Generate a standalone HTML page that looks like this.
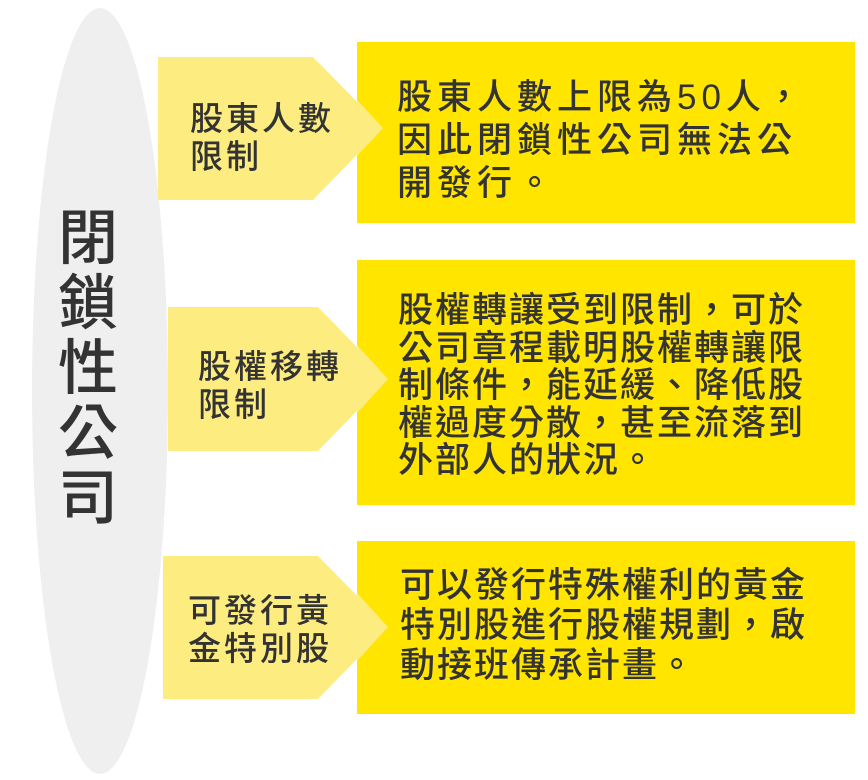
<!DOCTYPE html>
<html><head><meta charset="utf-8"><style>
body{margin:0;width:868px;height:780px;background:#fff;position:relative;overflow:hidden;font-family:"Liberation Sans","Noto Sans CJK TC",sans-serif;color:#333}
.a{position:absolute}
.box{position:absolute;left:357px;width:498px;background:#ffe500}
.t{position:absolute;font-size:35px;white-space:nowrap;font-weight:500}
.p{position:absolute;font-size:33px;letter-spacing:3px;line-height:38px;white-space:nowrap;font-weight:500}
</style></head><body>
<div class="a" style="left:32px;top:8px;width:136px;height:766px;border-radius:50%;background:#efefef"></div>
<div class="a" style="left:55px;top:206px;width:66px;font-size:60px;line-height:65px;text-align:center;font-weight:500">閉<br>鎖<br>性<br>公<br>司</div>

<svg class="a" style="left:0;top:0" width="868" height="780">
<polygon points="158,57 313,57 383,128 313,200 158,200" fill="#fdec7f"/>
<polygon points="168,307 318,307 388,379 318,451 168,451" fill="#fdec7f"/>
<polygon points="163,556 318,556 388,627 318,699 163,699" fill="#fdec7f"/>
</svg>
<div class="box" style="top:42px;height:181px"></div>
<div class="box" style="top:260px;height:245px"></div>
<div class="box" style="top:541px;height:173px"></div>
<svg class="a" style="left:0;top:0" width="868" height="780">
<polygon points="357,100 383,128 357,156" fill="#fdec7f"/>
<polygon points="357,345 388,379 357,413" fill="#fdec7f"/>
<polygon points="357,593 388,627 357,661" fill="#fdec7f"/>
</svg>

<div class="p" style="left:190px;top:100px">股東人數<br>限制</div>
<div class="p" style="left:198px;top:348px">股權移轉<br>限制</div>
<div class="p" style="left:188px;top:592px">可發行黃<br>金特別股</div>

<div class="t" style="left:397px;top:76px;line-height:43px;letter-spacing:5px">股東人數上限為50人，<br>因此閉鎖性公司無法公<br>開發行。</div>
<div class="t" style="left:398px;top:292px;line-height:37.5px;letter-spacing:2px">股權轉讓受到限制，可於<br>公司章程載明股權轉讓限<br>制條件，能延緩、降低股<br>權過度分散，甚至流落到<br>外部人的狀況。</div>
<div class="t" style="left:400px;top:566px;line-height:40px;letter-spacing:2px">可以發行特殊權利的黃金<br>特別股進行股權規劃，啟<br>動接班傳承計畫。</div>
</body></html>
